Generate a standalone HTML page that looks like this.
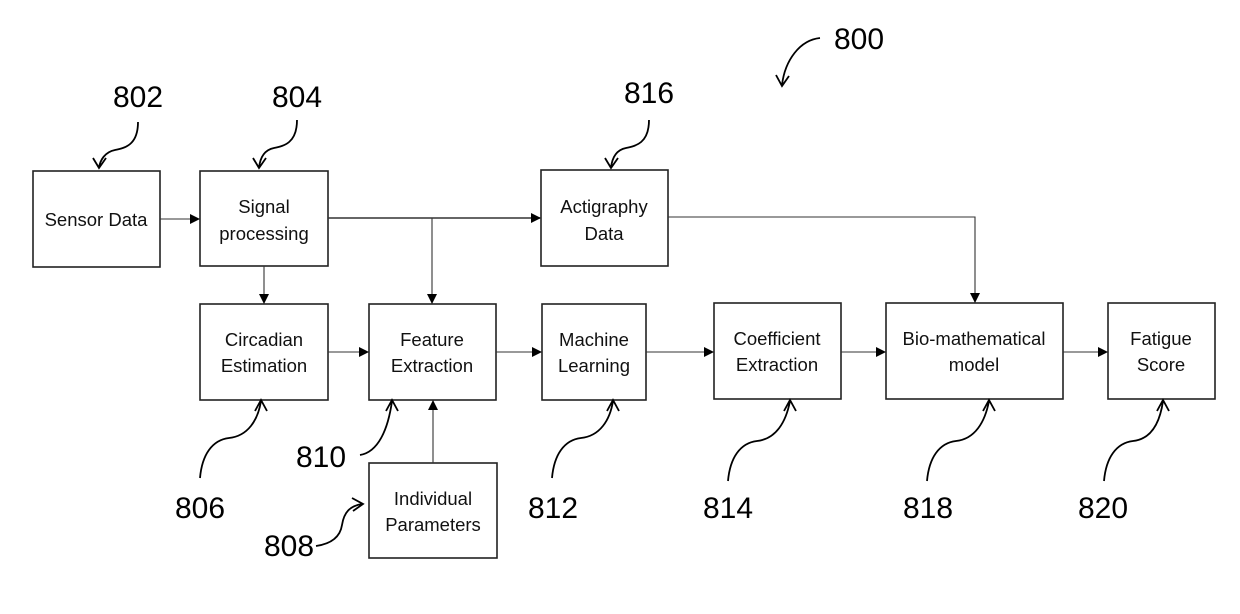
<!DOCTYPE html>
<html><head><meta charset="utf-8"><style>
html,body{margin:0;padding:0;background:#fff;}
svg{display:block}
.b{fill:#fff;stroke:#222;stroke-width:1.6}
.t{font-family:"Liberation Sans",sans-serif;font-size:18.5px;fill:#111;text-anchor:middle}
.n{font-family:"Liberation Sans",sans-serif;font-size:30px;fill:#000}
.l{stroke:#333;stroke-width:1.1;fill:none}
.c{stroke:#000;stroke-width:1.8;fill:none}
</style></head><body>
<svg width="1240" height="614" viewBox="0 0 1240 614" xmlns="http://www.w3.org/2000/svg">
<defs>
<marker id="a" markerWidth="10" markerHeight="10" refX="9" refY="5" orient="auto" markerUnits="userSpaceOnUse">
<path d="M0,0 L10,5 L0,10 z" fill="#000"/></marker>
</defs>
<rect class="b" x="33" y="171" width="127" height="96"/>
<text class="t" x="96" y="226">Sensor Data</text>
<rect class="b" x="200" y="171" width="128" height="95"/>
<text class="t" x="264" y="213">Signal</text><text class="t" x="264" y="240">processing</text>
<rect class="b" x="541" y="170" width="127" height="96"/>
<text class="t" x="604" y="213">Actigraphy</text><text class="t" x="604" y="240">Data</text>
<rect class="b" x="200" y="304" width="128" height="96"/>
<text class="t" x="264" y="346">Circadian</text><text class="t" x="264" y="372">Estimation</text>
<rect class="b" x="369" y="304" width="127" height="96"/>
<text class="t" x="432" y="346">Feature</text><text class="t" x="432" y="372">Extraction</text>
<rect class="b" x="542" y="304" width="104" height="96"/>
<text class="t" x="594" y="346">Machine</text><text class="t" x="594" y="372">Learning</text>
<rect class="b" x="714" y="303" width="127" height="96"/>
<text class="t" x="777" y="345">Coefficient</text><text class="t" x="777" y="371">Extraction</text>
<rect class="b" x="886" y="303" width="177" height="96"/>
<text class="t" x="974" y="345">Bio-mathematical</text><text class="t" x="974" y="371">model</text>
<rect class="b" x="1108" y="303" width="107" height="96"/>
<text class="t" x="1161" y="345">Fatigue</text><text class="t" x="1161" y="371">Score</text>
<rect class="b" x="369" y="463" width="128" height="95"/>
<text class="t" x="433" y="505">Individual</text><text class="t" x="433" y="531">Parameters</text>
<line class="l" x1="160" y1="219" x2="199" y2="219" marker-end="url(#a)"/>
<line class="l" x1="328" y1="218" x2="540" y2="218" marker-end="url(#a)" style="stroke-width:1.4"/>
<line class="l" x1="432" y1="218" x2="432" y2="303" marker-end="url(#a)"/>
<line class="l" x1="264" y1="266" x2="264" y2="303" marker-end="url(#a)"/>
<polyline class="l" points="668,217 975,217 975,302" marker-end="url(#a)"/>
<line class="l" x1="328" y1="352" x2="368" y2="352" marker-end="url(#a)"/>
<line class="l" x1="496" y1="352" x2="541" y2="352" marker-end="url(#a)"/>
<line class="l" x1="646" y1="352" x2="713" y2="352" marker-end="url(#a)"/>
<line class="l" x1="841" y1="352" x2="885" y2="352" marker-end="url(#a)"/>
<line class="l" x1="1063" y1="352" x2="1107" y2="352" marker-end="url(#a)"/>
<line class="l" x1="433" y1="463" x2="433" y2="401" marker-end="url(#a)"/>
<text class="n" x="834" y="49">800</text>
<text class="n" x="113" y="107">802</text>
<text class="n" x="272" y="107">804</text>
<text class="n" x="624" y="103">816</text>
<text class="n" x="175" y="518">806</text>
<text class="n" x="296" y="467">810</text>
<text class="n" x="528" y="518">812</text>
<text class="n" x="703" y="518">814</text>
<text class="n" x="903" y="518">818</text>
<text class="n" x="1078" y="518">820</text>
<text class="n" x="264" y="556">808</text>
<path class="c" d="M820,38 C800,40 785,60 782,85 M776,75 L782,86 L789,76"/>
<path class="c" d="M138,122 C138,145 125,148 115,150 C105,152 100,160 99,168 M93,158 L99,168 L106,158"/>
<path class="c" d="M297,120 C297,143 284,146 274,148 C264,150 260,158 259,168 M253,158 L259,168 L266,158"/>
<path class="c" d="M649,120 C649,143 636,146 626,148 C616,150 612,158 611,168 M605,158 L611,168 L618,158"/>
<path class="c" d="M200,478 C202,455 212,440 229,438 C248,436 258,420 261,401 M255,411 L261,400 L267,411"/>
<path class="c" d="M360,455 C378,452 388,430 392,401 M386,411 L392,400 L398,411"/>
<path class="c" d="M552,478 C554,455 564,440 581,438 C600,436 610,420 613,401 M607,411 L613,400 L619,411"/>
<path class="c" d="M728,481 C730,458 740,443 757,441 C776,439 786,422 790,401 M784,411 L790,400 L796,411"/>
<path class="c" d="M927,481 C929,458 939,443 956,441 C975,439 985,422 989,401 M983,411 L989,400 L995,411"/>
<path class="c" d="M1104,481 C1106,458 1116,443 1133,441 C1152,439 1160,422 1163,401 M1157,411 L1163,400 L1169,411"/>
<path class="c" d="M316,546 C330,544 340,538 342,525 C344,512 350,506 362,504 M352,498 L363,504 L353,511"/>
</svg>
</body></html>
